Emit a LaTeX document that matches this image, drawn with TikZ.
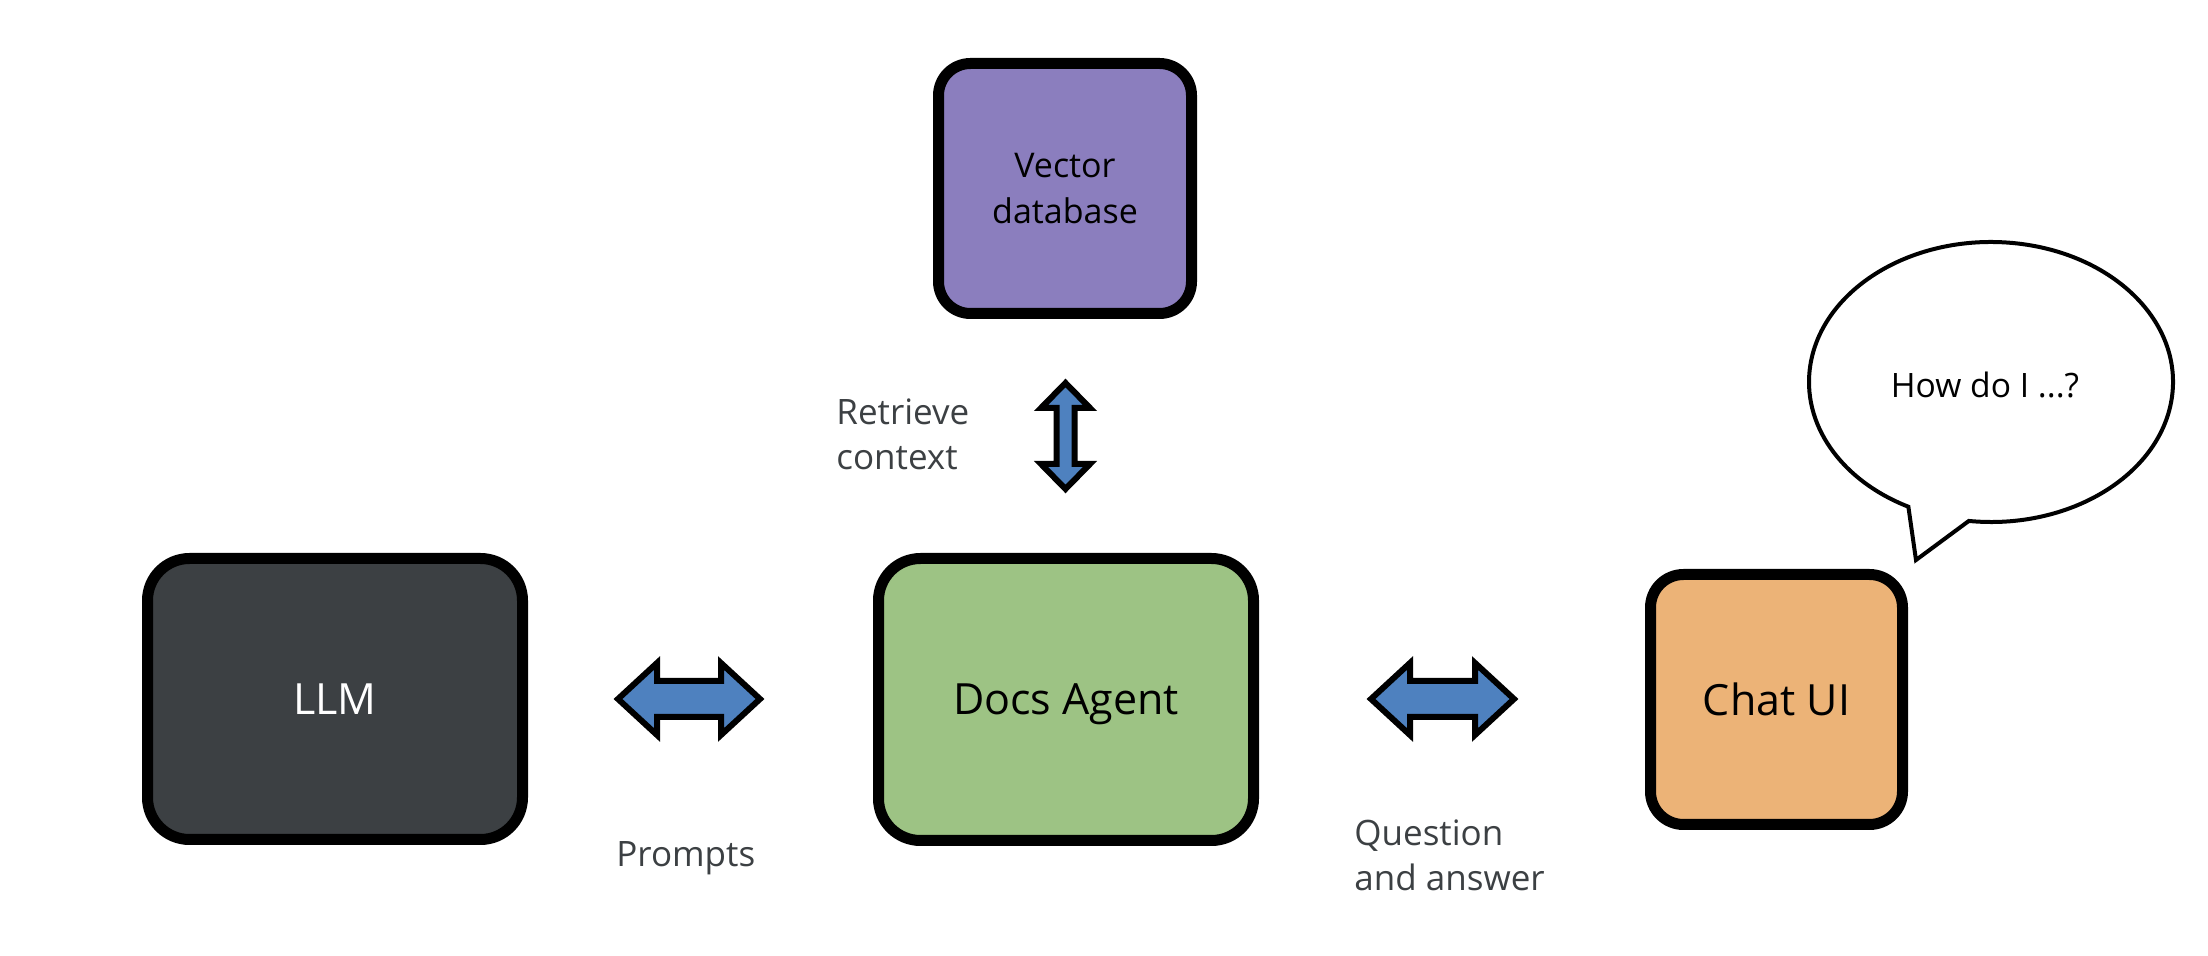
\documentclass[tikz,border=0pt]{standalone}
\usepackage{fontspec}
\setmainfont{Open Sans}
\usetikzlibrary{calc}
\definecolor{vpurple}{HTML}{8B7EBE}
\definecolor{dgreen}{HTML}{9DC384}
\definecolor{corange}{HTML}{ECB377}
\definecolor{llmdark}{HTML}{3C4043}
\definecolor{arrblue}{HTML}{4E81BF}
\definecolor{lblgray}{HTML}{3C4043}
\tikzset{
  box/.style={draw=black, line width=5.5pt, rounded corners=#1, inner sep=0pt, align=center},
  box/.default=16pt,
  bigtext/.style={font=\fontsize{21.5}{26}\selectfont},
  smalltext/.style={font=\fontsize{17}{23}\selectfont},
  lbl/.style={font=\fontsize{17.5}{22.5}\selectfont, text=lblgray, align=left, inner sep=0pt, anchor=north west},
  fatarrow/.style={draw=black, line width=3pt, fill=arrblue, line join=miter},
  bubble/.style={draw=black, line width=2pt, fill=white, line join=miter}
}
\begin{document}
\begin{tikzpicture}[x=0.5pt, y=-0.5pt]
\useasboundingbox (0,0) rectangle (2208,956);
% boxes
\node[box=16pt, fill=vpurple, minimum width=126.5pt, minimum height=125pt, smalltext] (vdb) at (1065,188.5) {Vector\\database};
\node[box=21pt, fill=llmdark, minimum width=187.5pt, minimum height=140.5pt, bigtext, text=white] (llm) at (335,699) {LLM};
\node[box=21pt, fill=dgreen, minimum width=187.5pt, minimum height=141pt, bigtext, text depth=0pt] (docs) at (1066,699.5) {Docs Agent};
\node[box=16.5pt, fill=corange, minimum width=126pt, minimum height=125pt, bigtext] (chat) at (1776.5,699.5) {Chat UI};
% arrows
\draw[fatarrow] (1065.5,383) -- (1090,408) -- (1074.5,408) -- (1074.5,464) -- (1090,464) -- (1065.5,489) -- (1041,464) -- (1056.5,464) -- (1056.5,408) -- (1041,408) -- cycle;
\draw[fatarrow] (618,699) -- (657,663) -- (657,681) -- (721,681) -- (721,663) -- (760,699) -- (721,735) -- (721,717) -- (657,717) -- (657,735) -- cycle;
\draw[fatarrow] (1371,699) -- (1410,663) -- (1410,681) -- (1475,681) -- (1475,663) -- (1514,699) -- (1475,735) -- (1475,717) -- (1410,717) -- (1410,735) -- cycle;
% labels
\node[lbl] (lret) at (836,398) {Retrieve\\context};
\node[lbl] (lprm) at (616,841) {Prompts};
\node[lbl] (lqa) at (1354,819) {Question\\and answer};
% speech bubble
\coordinate (bc) at (1991,382);
\coordinate (btip) at (1916,560);
\draw[bubble] ($(bc)+(263:91pt and 70pt)$) arc[start angle=263, end angle=603, x radius=91pt, y radius=70pt] -- (btip) -- cycle;
\node[font=\fontsize{16.8}{20}\selectfont, inner sep=0pt] (howdo) at (1985,385) {How do I ...?};
\end{tikzpicture}
\end{document}
